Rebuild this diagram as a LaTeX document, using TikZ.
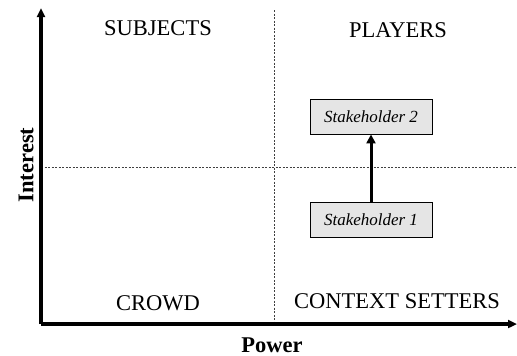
\documentclass[tikz,border=0pt]{standalone}
\usepackage{fontspec}
\setmainfont{Liberation Serif}
\usetikzlibrary{arrows.meta}
\begin{document}
\begin{tikzpicture}[x=1pt,y=-1pt,
  axis/.style={line width=3.2pt,-{Triangle[length=9pt,width=8pt]}},
  divider/.style={line width=0.8pt,dash pattern=on 2pt off 1.5pt,black!75},
  quadlabel/.style={font=\fontsize{22.5}{25}\selectfont,inner sep=0pt},
  axislabel/.style={font=\fontsize{22.5}{25}\selectfont\bfseries,inner sep=0pt},
  stakebox/.style={draw,line width=0.9pt,fill=black!10,minimum width=122pt,minimum height=35pt,inner sep=0pt,font=\fontsize{17}{20}\selectfont\itshape},
  move/.style={line width=3pt,-{Triangle[length=9pt,width=9pt]}}]
\useasboundingbox (0,0) rectangle (517,356);
% axes
\coordinate (O) at (41,324);
\coordinate (ytop) at (41,8);
\coordinate (xend) at (517,324);
% quadrant dividers
\coordinate (vtop) at (274,10);
\coordinate (vbot) at (274,324);
\coordinate (hleft) at (41,167);
\coordinate (hright) at (517,167);
\draw[divider] (vtop) -- (vbot);
\draw[divider] (hleft) -- (hright);
\draw[axis] (O) -- (ytop);
\draw[axis] (O) -- (xend);
% quadrant names
\node[quadlabel] (subj) at (158,28) {SUBJECTS};
\node[quadlabel] (play) at (398,30) {PLAYERS};
\node[quadlabel] (crowd) at (158,303) {CROWD};
\node[quadlabel] (ctx) at (397,301) {CONTEXT SETTERS};
% axis names
\node[axislabel] (power) at (272,345) {Power};
\node[axislabel,rotate=90] (interest) at (26,165) {Interest};
% stakeholders
\node[stakebox] (s2) at (371,116.5) {Stakeholder 2};
\node[stakebox] (s1) at (371,220) {Stakeholder 1};
\draw[move] (s1) -- (s2);
\end{tikzpicture}
\end{document}
